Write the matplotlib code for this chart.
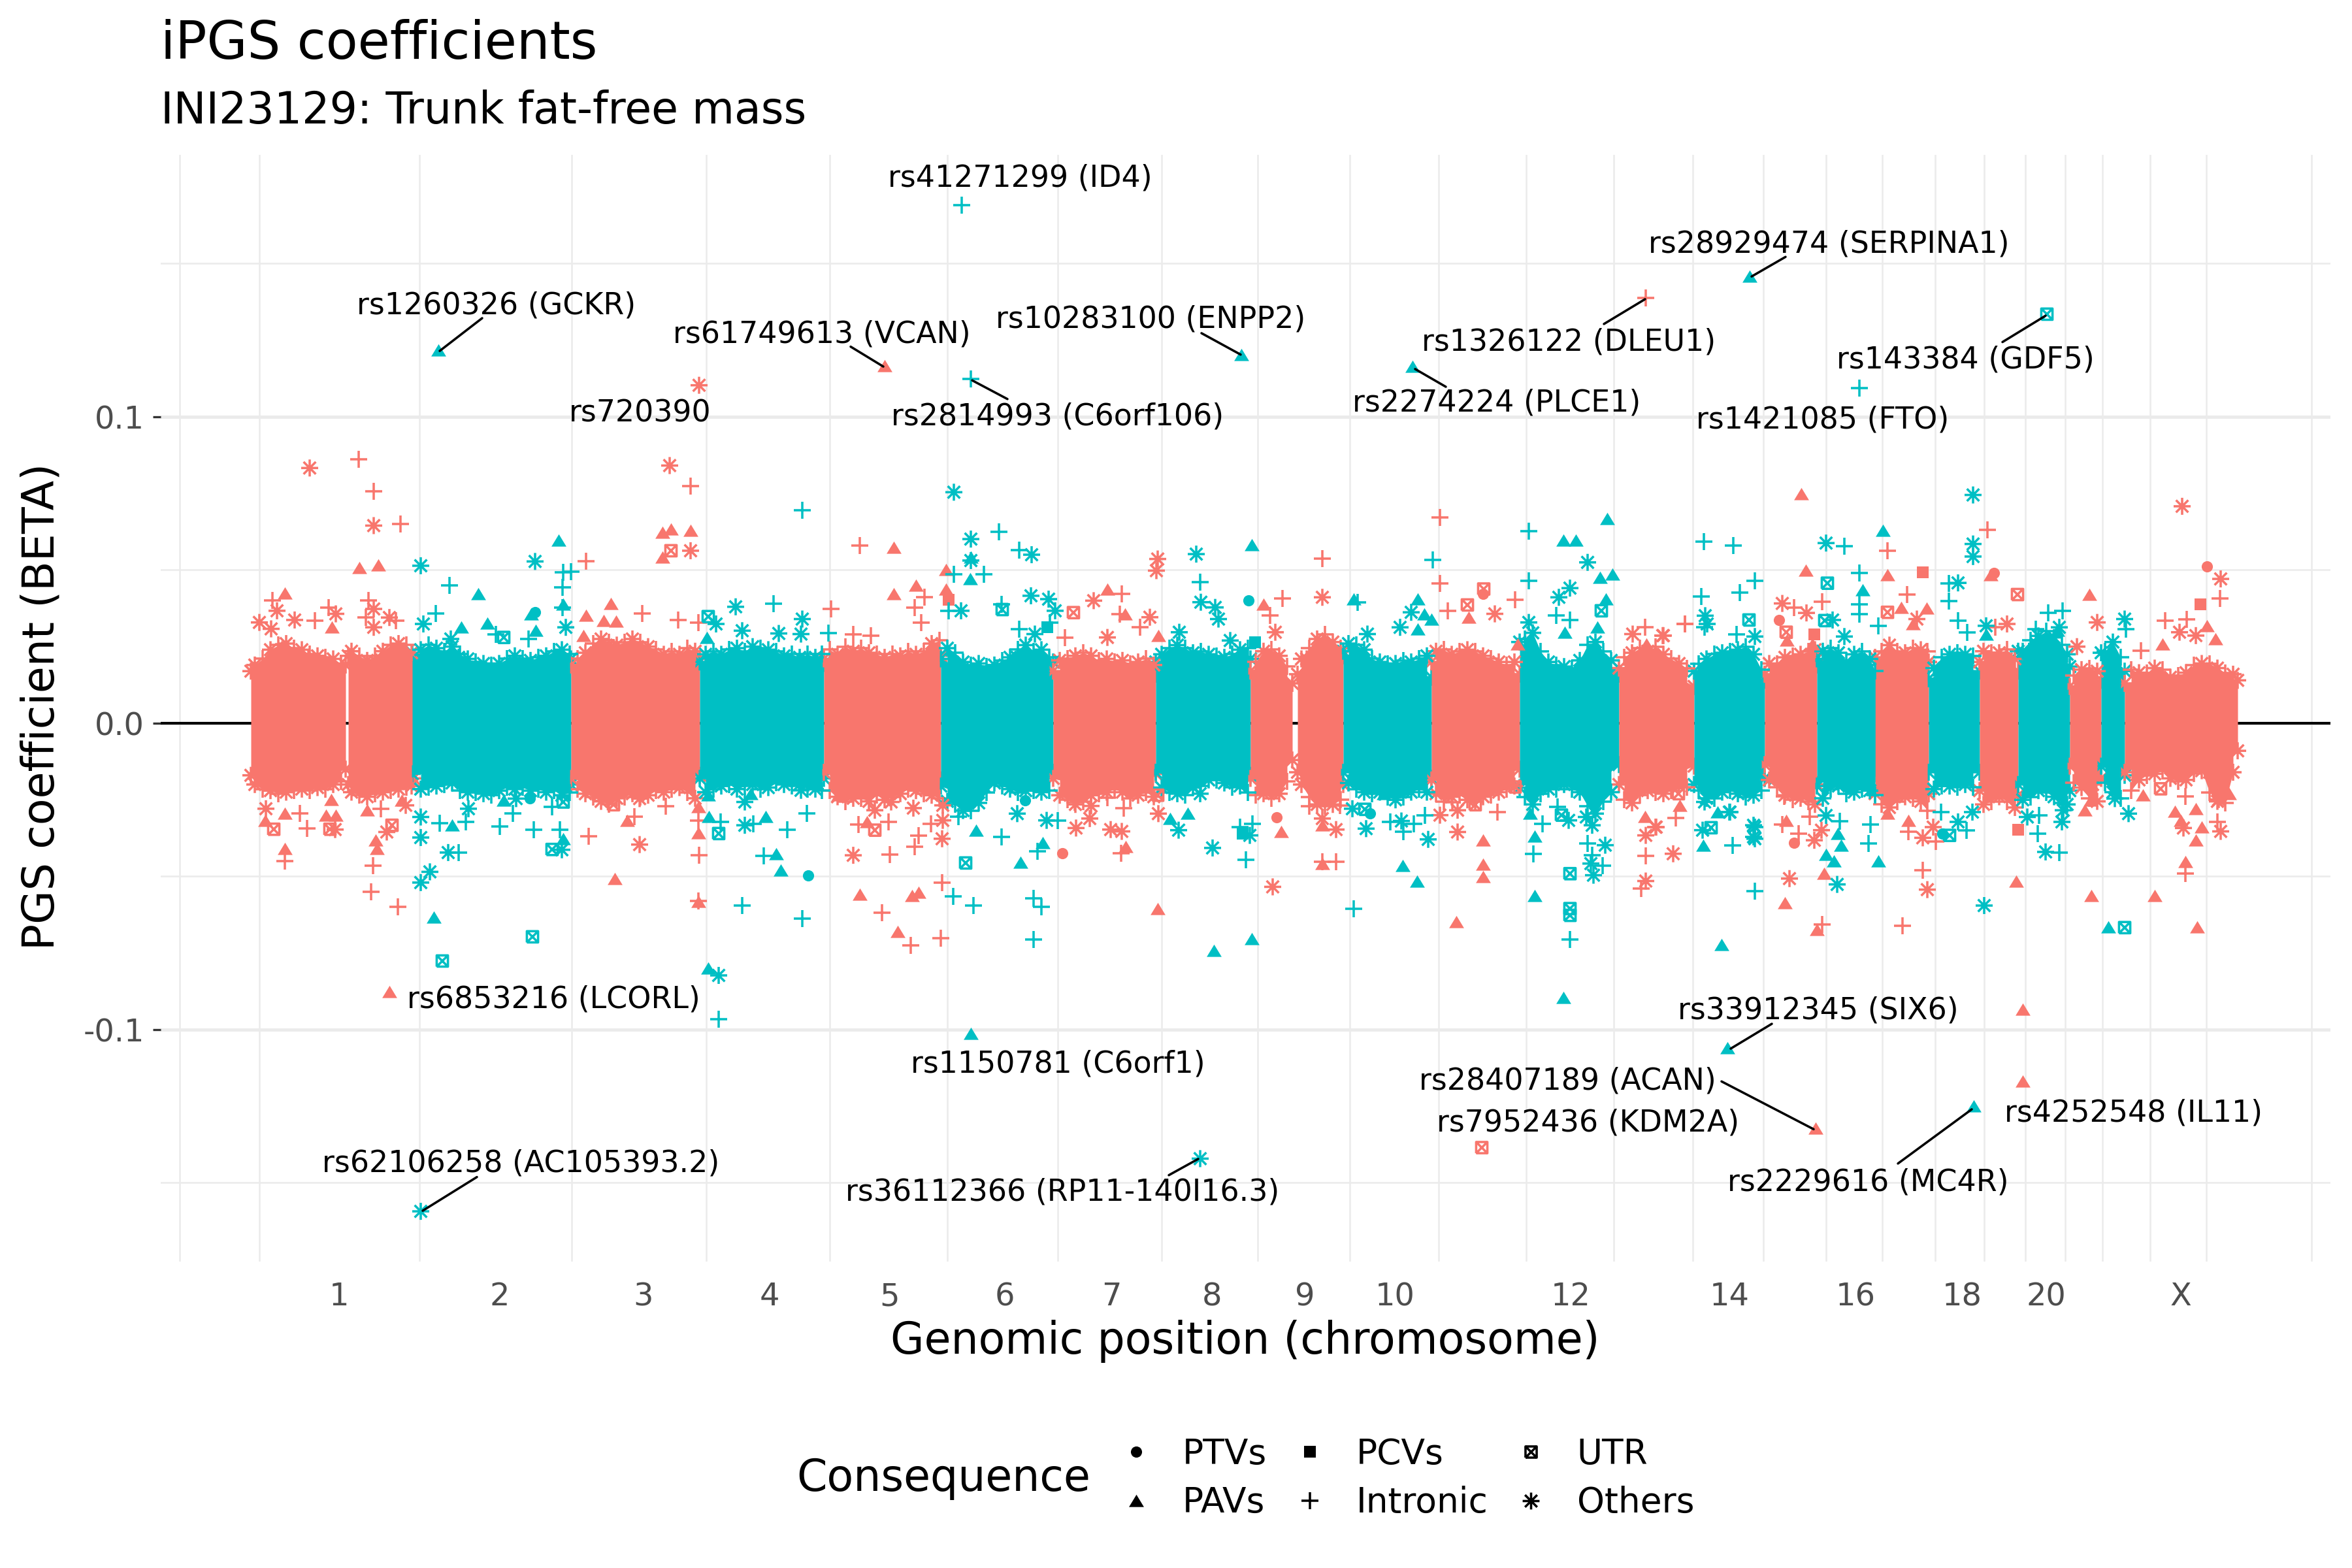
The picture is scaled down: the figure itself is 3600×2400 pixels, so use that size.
import numpy as np
import matplotlib
matplotlib.use("Agg")
import matplotlib.pyplot as plt
from matplotlib.lines import Line2D
from matplotlib.path import Path

SALMON = "#F8766D"
TEAL = "#00BFC4"
GRID = "#EBEBEB"

# x is cumulative genomic position (about 1 Mb per unit, offset as read), y is BETA
tick_pos = [519, 765, 985, 1178, 1361, 1538, 1701, 1855, 1997, 2135, 2404, 2647, 2840, 3003, 3132, 3338]
tick_lab = ["1", "2", "3", "4", "5", "6", "7", "8", "9", "10", "12", "14", "16", "18", "20", "X"]
minor_x = [275, 397, 642, 875, 1081, 1270, 1450, 1619, 1778, 1925, 2066, 2202, 2336, 2470, 2591, 2699,
           2795, 2881, 2962, 3037, 3100, 3161, 3218, 3291, 3377, 3538]
chr_ends = [631, 874, 1071, 1261, 1440, 1612, 1769, 1914, 2056, 2191, 2326, 2478, 2593, 2701, 2781, 2871,
            2952, 3030, 3089, 3168, 3216, 3252]
# centromere gaps in chromosomes 1 and 9
gaps = [531, 1982]

# dense body of each chromosome: position samples and upper/lower extent
band_chr = [1, 1, 2, 3, 4, 5, 6, 7, 8, 9, 9, 10, 11, 12, 13, 14, 15, 16, 17, 18, 19, 20, 21, 22, 23]
band_pos = [
    [384, 432, 472, 529], [533, 576, 610, 633], [631, 702, 736, 788, 845, 874], [874, 931, 983, 1040, 1071],
    [1071, 1161, 1230, 1261], [1261, 1302, 1353, 1404, 1440], [1440, 1481, 1506, 1527, 1557, 1612],
    [1612, 1659, 1684, 1710, 1769], [1769, 1807, 1838, 1878, 1914], [1914, 1945, 1978], [1986, 2000, 2025, 2056],
    [2056, 2097, 2128, 2153, 2191], [2191, 2255, 2326], [2326, 2367, 2408, 2439, 2478], [2478, 2531, 2561, 2593],
    [2593, 2638, 2673, 2701], [2701, 2750, 2781], [2781, 2811, 2831, 2857, 2872], [2870, 2923, 2952],
    [2952, 2994, 3030], [3030, 3071, 3089], [3089, 3137, 3168], [3168, 3203, 3216], [3216, 3252],
    [3252, 3300, 3326, 3341, 3382, 3425],
]
band_top = [
    [.017, .024, .021, .019], [.022, .020, .024, .021], [.023, .0215, .018, .020, .020, .021], [.019, .0235, .0235, .021, .021],
    [.020, .0215, .0195, .0195], [.021, .020, .019, .0195, .022], [.021, .017, .016, .017, .0215, .020],
    [.017, .019, .018, .016, .016], [.020, .022, .019, .0185, .021], [.017, .021, .013], [.016, .021, .026, .022],
    [.0235, .017, .016, .016, .015], [.020, .020, .016], [.0265, .016, .015, .023, .016], [.018, .021, .016, .012],
    [.017, .019, .021, .014], [.016, .017, .019], [.021, .020, .017, .019, .014], [.0215, .020, .020],
    [.0145, .0185, .017], [.020, .021, .017], [.0235, .0265, .0185], [.012, .015, .014], [.023, .017],
    [.013, .013, .009, .011, .013, .014],
]
band_bot = [
    [-.017, -.019, -.019, -.015], [-.020, -.021, -.018, -.018], [-.0165, -.0165, -.0185, -.018, -.019, -.020], [-.018, -.021, -.019, -.018, -.017],
    [-.018, -.0165, -.016, -.018], [-.016, -.020, -.020, -.016, -.0185], [-.0205, -.024, -.0205, -.0145, -.0165, -.016],
    [-.018, -.0205, -.019, -.0165, -.0165], [-.016, -.018, -.015, -.015, -.017], [-.018, -.0185, -.012], [-.016, -.018, -.022, -.020],
    [-.016, -.016, -.019, -.016, -.018], [-.0185, -.020, -.015], [-.021, -.0165, -.016, -.0205, -.0135], [-.020, -.0165, -.0165, -.014],
    [-.020, -.018, -.019, -.018], [-.0135, -.019, -.020], [-.0205, -.016, -.0185, -.0165, -.0165], [-.023, -.0205, -.023],
    [-.016, -.016, -.016], [-.022, -.020, -.0235], [-.020, -.017, -.022], [-.014, -.020, -.018], [-.014, -.017],
    [-.016, -.0115, -.011, -.009, -.016, -.009],
]

# rough rim of the dense body, upper side
edge_top = [(390, .019), (402, .021), (414, .024), (426, .0255), (438, .026), (450, .0245), (462, .024), (474, .0225), (486, .022), (498, .0215), (510, .021), (522, .0195),
            (538, .0235), (550, .022), (562, .0205), (574, .022), (586, .0235), (598, .0255), (610, .026), (622, .0255), (630, .023),
            (644, .024), (656, .0255), (668, .0245), (680, .0235), (692, .025), (704, .0225), (716, .021), (728, .02), (740, .0195), (752, .019), (764, .0195), (776, .021), (788, .022),
            (800, .021), (812, .0205), (824, .0215), (836, .022), (848, .0235), (860, .024), (872, .0225),
            (884, .021), (896, .023), (908, .026), (920, .0275), (932, .0265), (944, .0255), (956, .0265), (968, .0275), (980, .0265), (992, .025), (1004, .024), (1016, .0225), (1028, .0235),
            (1040, .0225), (1052, .0245), (1064, .0235),
            (1080, .0225), (1092, .0235), (1104, .0225), (1116, .024), (1128, .0245), (1140, .0235), (1152, .025), (1164, .0245), (1176, .024), (1188, .0235), (1200, .022), (1212, .0225),
            (1224, .0215), (1236, .0225), (1248, .0215), (1258, .0225),
            (1270, .024), (1282, .0225), (1294, .025), (1306, .0235), (1318, .0245), (1330, .023), (1342, .0225), (1354, .0215), (1366, .0225), (1378, .022), (1390, .0235), (1402, .0225),
            (1414, .0235), (1426, .026), (1438, .027),
            (1450, .0245), (1462, .023), (1474, .02), (1486, .019), (1498, .0195), (1510, .0185), (1522, .019), (1534, .0205), (1546, .0215), (1558, .024), (1570, .0255), (1582, .0235),
            (1594, .024), (1606, .0215),
            (1622, .0205), (1634, .021), (1646, .022), (1658, .023), (1670, .022), (1682, .0205), (1694, .021), (1706, .02), (1718, .0205), (1730, .0195), (1742, .02), (1754, .021), (1766, .019),
            (1778, .0225), (1790, .0245), (1802, .0255), (1814, .0245), (1826, .023), (1838, .0235), (1850, .0225), (1862, .022), (1874, .0215), (1886, .0225), (1898, .024), (1910, .0245),
            (1922, .02), (1934, .0235), (1946, .024), (1958, .022), (1970, .0185), (1992, .021), (2004, .0245), (2016, .0275), (2028, .029), (2040, .0265), (2052, .0245),
            (2064, .026), (2076, .0255), (2088, .024), (2100, .021), (2112, .02), (2124, .0195), (2136, .0195), (2148, .0205), (2160, .02), (2172, .021), (2184, .022),
            (2198, .0235), (2210, .024), (2222, .0225), (2234, .0235), (2246, .024), (2258, .0235), (2270, .022), (2282, .021), (2294, .02), (2306, .019), (2318, .02),
            (2334, .0275), (2346, .0295), (2358, .0235), (2370, .02), (2382, .019), (2394, .0185), (2406, .018), (2418, .0205), (2430, .0255), (2442, .0265), (2454, .0235), (2466, .0205),
            (2486, .0215), (2498, .023), (2510, .0245), (2522, .0235), (2534, .025), (2546, .0225), (2558, .021), (2570, .0195), (2582, .018),
            (2600, .0195), (2612, .021), (2624, .0225), (2636, .023), (2648, .0235), (2660, .024), (2672, .025), (2684, .0225), (2696, .0175),
            (2708, .0195), (2720, .0195), (2732, .0215), (2744, .022), (2756, .0225), (2768, .0235), (2778, .024),
            (2790, .0235), (2802, .0245), (2814, .023), (2826, .0205), (2838, .0225), (2850, .0235), (2862, .021), (2870, .017),
            (2880, .0235), (2892, .0255), (2904, .0235), (2916, .023), (2928, .0245), (2940, .024), (2950, .0235),
            (2960, .018), (2972, .0215), (2984, .0225), (2996, .023), (3008, .0225), (3020, .022),
            (3036, .0235), (3048, .023), (3060, .023), (3072, .024), (3084, .021),
            (3096, .0235), (3108, .027), (3120, .0285), (3132, .03), (3144, .028), (3156, .0255), (3164, .0225),
            (3174, .0155), (3186, .0175), (3198, .018), (3210, .017), (3222, .0235), (3234, .0265), (3246, .0215),
            (3262, .0175), (3274, .0165), (3286, .0165), (3298, .018), (3310, .0175), (3322, .015), (3334, .0155), (3346, .0165), (3358, .019), (3370, .0195), (3382, .0195), (3394, .018),
            (3406, .0165), (3418, .016)]
# and lower side
edge_bot = [(390, -.02), (402, -.0215), (414, -.022), (426, -.023), (438, -.0225), (450, -.022), (462, -.0215), (474, -.022), (486, -.021), (498, -.0215), (510, -.02), (522, -.019),
            (538, -.0225), (550, -.0235), (562, -.024), (574, -.023), (586, -.0225), (598, -.022), (610, -.0215), (622, -.021), (630, -.0205),
            (644, -.0215), (656, -.021), (668, -.0205), (680, -.02), (692, -.0195), (704, -.022), (716, -.0225), (728, -.0225), (740, -.023), (752, -.0235), (764, -.022), (776, -.021),
            (788, -.0215), (800, -.021), (812, -.022), (824, -.0215), (836, -.0225), (848, -.022), (860, -.0235), (872, -.0225),
            (884, -.0215), (896, -.023), (908, -.024), (920, -.0255), (932, -.0265), (944, -.0245), (956, -.024), (968, -.023), (980, -.024), (992, -.0235), (1004, -.022), (1016, -.0225),
            (1028, -.0215), (1040, -.021), (1052, -.0225), (1064, -.0245),
            (1080, -.0225), (1092, -.0215), (1104, -.0205), (1116, -.02), (1128, -.0215), (1140, -.0205), (1152, -.02), (1164, -.0215), (1176, -.021), (1188, -.0195), (1200, -.02),
            (1212, -.0205), (1224, -.02), (1236, -.0215), (1248, -.0215), (1258, -.022),
            (1270, -.022), (1282, -.024), (1294, -.0255), (1306, -.0245), (1318, -.0245), (1330, -.0255), (1342, -.0235), (1354, -.025), (1366, -.024), (1378, -.023), (1390, -.0215),
            (1402, -.022), (1414, -.023), (1426, -.0235), (1438, -.0245),
            (1450, -.0255), (1462, -.0265), (1474, -.0285), (1486, -.0285), (1498, -.026), (1510, -.0225), (1522, -.0195), (1534, -.0205), (1546, -.0215), (1558, -.0225), (1570, -.022),
            (1582, -.022), (1594, -.0225), (1606, -.022),
            (1622, -.0235), (1634, -.025), (1646, -.0265), (1658, -.0255), (1670, -.0235), (1682, -.023), (1694, -.0225), (1706, -.0215), (1718, -.0225), (1730, -.0245), (1742, -.0235),
            (1754, -.0225), (1766, -.024),
            (1778, -.021), (1790, -.0225), (1802, -.023), (1814, -.0235), (1826, -.021), (1838, -.0205), (1850, -.0185), (1862, -.0185), (1874, -.0195), (1886, -.021), (1898, -.0205), (1910, -.0225),
            (1922, -.0235), (1934, -.023), (1946, -.0245), (1958, -.023), (1970, -.019), (1992, -.02), (2004, -.024), (2016, -.0265), (2028, -.027), (2040, -.0265), (2052, -.025),
            (2064, -.0195), (2076, -.0215), (2088, -.0225), (2100, -.023), (2112, -.0225), (2124, -.024), (2136, -.025), (2148, -.024), (2160, -.0225), (2172, -.0215), (2184, -.0225),
            (2198, -.023), (2210, -.0255), (2222, -.024), (2234, -.0235), (2246, -.025), (2258, -.0255), (2270, -.024), (2282, -.0235), (2294, -.0225), (2306, -.0215), (2318, -.0205),
            (2334, -.024), (2346, -.0265), (2358, -.023), (2370, -.0215), (2382, -.0215), (2394, -.02), (2406, -.0215), (2418, -.0225), (2430, -.027), (2442, -.0295), (2454, -.0255), (2466, -.0225),
            (2486, -.025), (2498, -.026), (2510, -.0235), (2522, -.022), (2534, -.0225), (2546, -.023), (2558, -.022), (2570, -.0205), (2582, -.021),
            (2600, -.022), (2612, -.0245), (2624, -.0245), (2636, -.0225), (2648, -.022), (2660, -.023), (2672, -.024), (2684, -.0235), (2696, -.022),
            (2708, -.0185), (2720, -.021), (2732, -.0235), (2744, -.025), (2756, -.0245), (2768, -.0255), (2778, -.0265),
            (2790, -.0245), (2802, -.0215), (2814, -.0205), (2826, -.023), (2838, -.0225), (2850, -.0215), (2862, -.022), (2870, -.0235),
            (2880, -.0265), (2892, -.0275), (2904, -.0255), (2916, -.024), (2928, -.0245), (2940, -.0255), (2950, -.0285),
            (2960, -.0215), (2972, -.0205), (2984, -.0205), (2996, -.021), (3008, -.02), (3020, -.021),
            (3036, -.0265), (3048, -.0255), (3060, -.024), (3072, -.0255), (3084, -.0275),
            (3096, -.025), (3108, -.024), (3120, -.022), (3132, -.0225), (3144, -.024), (3156, -.026), (3164, -.0265),
            (3174, -.0195), (3186, -.021), (3198, -.0245), (3210, -.0255), (3222, -.0195), (3234, -.0225), (3246, -.0245),
            (3262, -.022), (3274, -.0185), (3286, -.017), (3298, -.0165), (3310, -.0155), (3322, -.018), (3334, -.019), (3346, -.0185), (3358, -.0165), (3370, -.0155), (3382, -.0225),
            (3394, -.0255), (3406, -.026), (3418, -.016)]

# points outside the dense body, salmon chromosomes
odd_others = [(474, .0833), (572, .0645), (1025, .0841), (1057, .0563), (1070, .1103), (397, .0329), (424, .0367), (451, .0337),
              (514, .0357), (572, .0373), (596, .0345), (572, .0313), (415, .0308), (1674, .0400), (1772, .0536), (1770, .0498),
              (1760, .0346), (2024, .0411), (2288, .0357), (1695, .0280), (1952, .0297), (2545, .0286), (2499, .0291),
              (3340, .0708), (3399, .0471), (3210, .0329), (3072, .0324), (2728, .0391), (2765, .0360), (2546, .0286), (2934, .0340),
              (3336, .0297), (3361, .0286), (3179, .0250),
              (592, -.0355), (979, -.0396), (1306, -.0431), (1442, -.0377), (513, -.0347), (407, -.0279), (979, -.0246), (1339, -.0284),
              (1364, -.0257), (1398, -.0277), (1443, -.0317), (1443, -.0268), (621, -.0268),
              (1948, -.0534), (2561, -.0426), (2519, -.0366), (2519, -.0515), (2535, -.0339), (2231, -.0355), (2045, -.0347), (2024, -.0311),
              (1647, -.0342), (1668, -.0311), (1700, -.0347), (1717, -.0353), (1773, -.0295), (1670, -.0270), (2231, -.0284), (2204, -.0300),
              (2739, -.0507), (2950, -.0543), (2534, -.0339), (3342, -.0342), (3399, -.0353), (2943, -.0374), (2959, -.0339), (2777, -.0382),
              (2788, -.0349), (3396, -.0249)]
odd_intronic = [(549, .0862), (572, .0757), (613, .0650), (897, .0528), (1057, .0773), (1316, .0580), (983, .0359), (1038, .0337), (1069, .0329),
                (1272, .0373), (417, .0400), (503, .0378), (564, .0400), (482, .0335), (560, .0346), (606, .0335), (1415, .0411), (1400, .0378),
                (1410, .0329), (1306, .0291), (1333, .0286), (1717, .0422), (1714, .0357), (1963, .0408), (2024, .0538), (2204, .0672), (2204, .0457),
                (2216, .0367), (2319, .0402), (1944, .0351), (1745, .0313), (2518, .0313), (2579, .0324), (1630, .0280), (2519, .1387),
                (3042, .0631), (2889, .0563), (2919, .0420), (2789, .0397), (2746, .0378), (2579, .0324), (3398, .0408), (3314, .0335), (3347, .0340),
                (3054, .0313), (3277, .0237),
                (436, -.0451), (568, -.0551), (609, -.0600), (571, -.0464), (470, -.0344), (459, -.0295), (583, -.0279), (901, -.0368), (971, -.0306),
                (1019, -.0271), (1070, -.0431), (1069, -.0581), (1069, -.0317), (1350, -.0619), (1394, -.0725), (1440, -.0701), (1442, -.0521),
                (1362, -.0429), (1400, -.0404), (1406, -.0366), (1314, -.0331), (1360, -.0322), (1425, -.0328),
                (1716, -.0424), (2045, -.0453), (2024, -.0453), (2512, -.0540), (2519, -.0433), (2565, -.0309), (2292, -.0290), (2223, -.0257),
                (1720, -.0277), (1695, -.0244), (1645, -.0257), (2004, -.0271), (2051, -.0268),
                (2912, -.0660), (2943, -.0480), (2789, -.0657), (3345, -.0491), (3394, -.0322), (3345, -.0238), (2731, -.0238), (2728, -.0331),
                (2770, -.0306), (2753, -.0360), (2963, -.0385), (2921, -.0355)]
odd_pavs = [(436, .0425), (550, .0507), (579, .0516), (508, .0313), (935, .0391), (897, .0351), (924, .0335), (943, .0333), (1014, .0623), (1027, .0634),
            (1057, .0628), (1014, .0541), (1368, .0574), (1448, .0502), (1368, .0422), (1402, .0449), (1448, .0438), (1354, .1167), (893, .0286),
            (1695, .0438), (1722, .0356), (1934, .0389), (2248, .0346), (1773, .0286), (2323, .0259),
            (2757, .0748), (2764, .0498), (2889, .0485), (3047, .0485), (3198, .0420), (2910, .0378), (2949, .0376), (2928, .0324), (3378, .0318),
            (3310, .0259), (3391, .0275), (2520, .0259), (2735, .0270), (2774, .0259),
            (596, -.0877), (436, -.0409), (577, -.0409), (575, -.0382), (406, -.0317), (436, -.0295), (499, -.0301), (514, -.0301), (562, -.0284),
            (615, -.0252), (507, -.0249), (941, -.0507), (960, -.0317), (1069, -.0358), (1069, -.0583), (1069, -.0273), (1316, -.0559), (1396, -.0562),
            (1406, -.0553), (1374, -.0681), (1283, -.0235), (1327, -.0322),
            (1772, -.0605), (2229, -.0649), (2270, -.0382), (2270, -.0460), (2270, -.0502), (2024, -.0458), (2024, -.0333), (1961, -.0355), (1723, -.0404),
            (2571, -.0268), (2518, -.0306),
            (2779, -.1321), (3096, -.0935), (3096, -.1168), (3086, -.0515), (3201, -.0564), (3298, -.0562), (3363, -.0665), (2781, -.0673), (2732, -.0587),
            (2792, -.0491), (3345, -.0453), (3361, -.0382), (3370, -.0339), (3338, -.0317), (3329, -.0287), (3361, -.0279), (3191, -.0284), (3200, -.0252),
            (3280, -.0235), (3412, -.0230), (2889, -.0295), (2921, -.0317), (2734, -.0317)]
odd_utr = [(1027, .0563), (931, .0253), (1643, .0361), (2271, .0438), (2246, .0386), (3088, .0420), (2734, .0297), (2889, .0362),
           (419, -.0346), (505, -.0346), (600, -.0333), (1339, -.0349), (939, -.0266), (916, -.0235), (2268, -.1385), (1772, -.0235), (2258, -.0266),
           (2319, -.0208), (2569, -.0230), (3307, -.0214)]
odd_pcvs = [(1452, .0402), (2943, .0493), (3368, .0389), (2777, .0289), (3089, -.0347)]
odd_ptvs = [(2270, .0422), (3052, .0490), (2723, .0337), (3378, .0512), (1626, -.0424), (1954, -.0307), (2746, -.0390)]

# teal chromosomes
even_others = [(644, .0514), (819, .0528), (1460, .0754), (1486, .0601), (1486, .0531), (1126, .0380), (1096, .0324), (1136, .0302), (1192, .0293), (1228, .0340),
               (1226, .0291), (1471, .0367), (648, .0324), (866, .0313), (690, .0275),
               (1579, .0550), (1831, .0552), (1578, .0416), (1605, .0405), (1615, .0367), (1838, .0395), (1860, .0378), (1865, .0340), (1805, .0297), (2430, .0525),
               (2403, .0441), (2386, .0411), (2160, .0362), (2143, .0313), (2093, .0291), (2340, .0329), (2610, .0351), (2613, .0324), (1584, .0291), (1883, .0270),
               (3020, .0745), (2795, .0588), (3020, .0585), (3020, .0544), (2997, .0458), (3252, .0340), (2805, .0337), (2823, .0283), (2686, .0283), (3040, .0318),
               (3152, .0313), (3117, .0259),
               (644, -.1593), (644, -.0520), (658, -.0485), (686, -.0422), (644, -.0373), (644, -.0306), (1100, -.0823), (860, -.0413), (1140, -.0333), (790, -.0246),
               (717, -.0279), (1140, -.0257), (1226, -.0219),
               (1837, -.1421), (1856, -.0407), (1804, -.0349), (1557, -.0295), (1602, -.0317), (2091, -.0344), (2145, -.0319), (2186, -.0379), (2401, -.0317), (2457, -.0398),
               (2435, -.0458), (2439, -.0496), (2428, -.0306), (2437, -.0333), (2606, -.0349), (2686, -.0339), (2686, -.0377), (1913, -.0366), (2070, -.0279), (1837, -.0230),
               (2648, -.0290),
               (3037, -.0595), (2812, -.0526), (3131, -.0420), (2684, -.0371), (2684, -.0333), (2647, -.0290), (2609, -.0257), (2997, -.0322), (3019, -.0290), (3156, -.0322),
               (3158, -.0284), (3103, -.0306), (3258, -.0295), (2795, -.0301), (3237, -.0246)]
even_intronic = [(1472, .1691), (1486, .1124), (1228, .0694), (862, .0493), (874, .0495), (861, .0444), (688, .0449), (667, .0359), (1184, .0391), (1460, .0487),
                 (1452, .0367), (861, .0378), (1268, .0294), (759, .0291), (809, .0275),
                 (1529, .0625), (1560, .0565), (1506, .0487), (1837, .0460), (2340, .0626), (2193, .0533), (2340, .0465), (2608, .0593), (2653, .0580), (2686, .0465),
                 (2663, .0427), (2604, .0413), (2078, .0394), (2382, .0351), (2403, .0337), (1560, .0307), (1533, .0389), (1607, .0329),
                 (2846, .1094), (2823, .0577), (2846, .0490), (2846, .0389), (2846, .0357), (2983, .0457), (2983, .0398), (2997, .0335), (3011, .0297), (3135, .0360),
                 (3157, .0367), (3116, .0307), (3254, .0307), (2658, .0291), (2609, .0313), (2875, .0318),
                 (1100, -.0967), (1136, -.0594), (1228, -.0638), (1169, -.0433), (1235, -.0295), (1205, -.0347), (765, -.0336), (817, -.0347), (857, -.0347), (702, -.0422),
                 (785, -.0295), (845, -.0273), (673, -.0326), (713, -.0322), (1459, -.0565), (1490, -.0594), (1467, -.0306), (1103, -.0322), (1153, -.0328),
                 (1582, -.0572), (1594, -.0600), (1582, -.0705), (2072, -.0605), (2403, -.0705), (2347, -.0426), (1533, -.0371), (1588, -.0417), (1907, -.0445), (2430, -.0393),
                 (2437, -.0431), (2453, -.0464), (2652, -.0398), (2686, -.0547), (2148, -.0355), (2164, -.0328), (2128, -.0322), (2181, -.0300), (2361, -.0328), (1898, -.0339),
                 (1917, -.0328), (1619, -.0317), (2384, -.0273),
                 (2860, -.0393), (2863, -.0331), (2816, -.0320), (3010, -.0349), (2971, -.0290), (3119, -.0360), (3152, -.0422), (3121, -.0300)]
even_pavs = [(671, .1218), (855, .0598), (732, .0422), (746, .0326), (862, .0389), (813, .0356), (820, .0302), (706, .0313), (1082, .0280), (1486, .0541), (1485, .0471),
             (1900, .1203), (2162, .1164), (1916, .0582), (2460, .0667), (2393, .0598), (2412, .0596), (2449, .0476), (2468, .0487), (2458, .0406), (2072, .0406), (2170, .0406),
             (2180, .0356), (2191, .0340), (2170, .0307), (2395, .0297), (2445, .0313),
             (2678, .1459), (2882, .0629), (2851, .0435), (3040, .0291), (3149, .0302),
             (664, -.0634), (1084, -.0799), (1486, -.1013), (771, -.0252), (692, -.0333), (862, -.0377), (1085, -.0306), (1172, -.0304), (1188, -.0426), (1195, -.0480),
             (1494, -.0350), (1084, -.0235), (1149, -.0230),
             (1562, -.0455), (1596, -.0391), (2147, -.0465), (2169, -.0516), (2349, -.0562), (2349, -.0369), (2393, -.0896), (2635, -.0722), (1858, -.0741), (1916, -.0703),
             (2607, -.0399), (2342, -.0295), (1791, -.0311), (2118, -.0230), (2644, -.1060), (2629, -.0290), (1818, -.0295),
             (3021, -.1250), (3227, -.0665), (2795, -.0429), (2807, -.0451), (2818, -.0398), (2813, -.0360), (2875, -.0451)]
even_utr = [(1084, .0348), (771, .0280), (1534, .0371), (2451, .0367), (2677, .0337), (3133, .1335), (2797, .0457), (2793, .0335),
            (677, -.0776), (815, -.0697), (845, -.0412), (1100, -.0360), (1478, -.0456), (862, -.0257),
            (2403, -.0491), (2403, -.0605), (2403, -.0627), (2619, -.0341), (2390, -.0300), (2089, -.0281), (3252, -.0667), (2984, -.0366)]
even_pcvs = [(1603, .0313), (1921, .0264), (1902, -.0360)]
even_ptvs = [(819, .0362), (1911, .0400), (811, -.0246), (1237, -.0496), (1569, -.0252), (2097, -.0295), (2973, -.0360)]

label_text = ["rs41271299 (ID4)", "rs28929474 (SERPINA1)", "rs1260326 (GCKR)", "rs61749613 (VCAN)", "rs10283100 (ENPP2)", "rs1326122 (DLEU1)",
              "rs143384 (GDF5)", "rs2814993 (C6orf106)", "rs2274224 (PLCE1)", "rs1421085 (FTO)", "rs720390", "rs6853216 (LCORL)", "rs1150781 (C6orf1)",
              "rs33912345 (SIX6)", "rs28407189 (ACAN)", "rs7952436 (KDM2A)", "rs4252548 (IL11)", "rs2229616 (MC4R)", "rs62106258 (AC105393.2)",
              "rs36112366 (RP11-140I16.3)"]
label_pos = [1561, 2799, 760, 1258, 1761, 2401, 3008, 1619, 2291, 2790, 980, 847, 1619, 2783, 2399, 2431, 3265, 2859, 797, 1626]
label_beta = [.1778, .1562, .1362, .1268, .1317, .1244, .1185, .0999, .1044, .0989, .1010, -.0901, -.1112, -.0939, -.1169, -.1306, -.1272, -.1498, -.1438, -.1532]

seg_x0 = [738, 1302, 1839, 1488, 2166, 2518, 2733, 3131, 730, 1834, 2712, 2635, 2905]
seg_b0 = [.1322, .1229, .1273, .1119, .1156, .1384, .1522, .1330, -.1481, -.1422, -.0981, -.1169, -.1437]
seg_x1 = [673, 1352, 1899, 1542, 2213, 2455, 2681, 3065, 647, 1789, 2649, 2776, 3018]
seg_b1 = [.1215, .1164, .1203, .1058, .1098, .1303, .1458, .1244, -.1591, -.1475, -.1062, -.1325, -.1260]

W, H = 3600, 2400
L, R, T, B = 246, 3567, 237, 1931

star_path = Path([(0, -1), (0, 1), (-1, 0), (1, 0), (-.72, -.72), (.72, .72), (-.72, .72), (.72, -.72)],
                 [Path.MOVETO, Path.LINETO] * 4)
utr_path = Path([(-1, -1), (1, -1), (1, 1), (-1, 1), (-1, -1), (-1, -1), (1, 1), (-1, 1), (1, -1)],
                [Path.MOVETO] + [Path.LINETO] * 4 + [Path.MOVETO, Path.LINETO, Path.MOVETO, Path.LINETO])
tri_path = Path([(-1, -.8), (1, -.8), (0, .85), (-1, -.8)], closed=True)

fig = plt.figure(figsize=(12, 8), dpi=300)
ax = fig.add_axes([L / W, 1 - B / H, (R - L) / W, (B - T) / H])
ax.set_xlim(L, R)
ax.set_ylim(-0.1757, 0.1855)
for s in ax.spines.values():
    s.set_visible(False)
ax.set_axisbelow(True)

for y in [-.15, -.05, .05, .15]:
    ax.axhline(y, color=GRID, lw=0.6, zorder=0)
for y in [-.1, 0, .1]:
    ax.axhline(y, color=GRID, lw=1.2, zorder=0)
for x in minor_x:
    ax.axvline(x, color=GRID, lw=0.6, zorder=0)
ax.axhline(0, color="black", lw=1.0, zorder=1)


def col(c):
    return SALMON if c % 2 == 1 else TEAL


def line_pts(pts, marker, color, s, z=3):
    a = np.array(pts)
    ax.scatter(a[:, 0], a[:, 1], marker=marker, s=s, facecolors="none", edgecolors=color, linewidths=0.85, zorder=z)


def fill_pts(pts, marker, color, s, z=3):
    a = np.array(pts)
    ax.scatter(a[:, 0], a[:, 1], marker=marker, s=s, c=color, linewidths=0, zorder=z)


for c, p, t, b in zip(band_chr, band_pos, band_top, band_bot):
    ax.fill_between(p, b, t, color=col(c), lw=0, zorder=2.5)
    ax.scatter(p, t, marker=star_path, s=39, facecolors="none", edgecolors=col(c), linewidths=0.85, zorder=2.5)
    ax.scatter(p, b, marker=star_path, s=39, facecolors="none", edgecolors=col(c), linewidths=0.85, zorder=2.5)

# rim markers take their colour from the chromosome they fall in, and the body is filled out to them
breaks = sorted(chr_ends + gaps)
for edge in [edge_top, edge_bot]:
    e = np.array(edge)
    part = np.searchsorted(breaks, e[:, 0])
    chrom = np.searchsorted(chr_ends, e[:, 0]) + 1
    for i in np.unique(part):
        sub = e[part == i]
        ax.fill_between(sub[:, 0], 0, sub[:, 1], color=col(chrom[part == i][0]), lw=0, zorder=2.5)
    for c, color in [(1, SALMON), (0, TEAL)]:
        sub = e[chrom % 2 == c]
        ax.scatter(sub[::2, 0], sub[::2, 1], marker=star_path, s=39, facecolors="none", edgecolors=color, linewidths=0.85, zorder=2.6)
        ax.scatter(sub[1::2, 0], sub[1::2, 1], marker="+", s=39, c=color, linewidths=0.85, zorder=2.6)

for color, oth, intr, pav, utr, pcv, ptv in [(SALMON, odd_others, odd_intronic, odd_pavs, odd_utr, odd_pcvs, odd_ptvs),
                                             (TEAL, even_others, even_intronic, even_pavs, even_utr, even_pcvs, even_ptvs)]:
    line_pts(oth, star_path, color, 39)
    a = np.array(intr)
    ax.scatter(a[:, 0], a[:, 1], marker="+", s=39, c=color, linewidths=0.85, zorder=3)
    fill_pts(pav, tri_path, color, 30)
    line_pts(utr, utr_path, color, 17)
    fill_pts(pcv, "s", color, 19)
    fill_pts(ptv, "o", color, 17)

for x0, b0, x1, b1 in zip(seg_x0, seg_b0, seg_x1, seg_b1):
    ax.plot([x0, x1], [b0, b1], color="black", lw=0.85, solid_capstyle="round", zorder=4)
for txt, x, y in zip(label_text, label_pos, label_beta):
    ax.text(x, y, txt, ha="center", va="center", fontsize=11, color="black", zorder=5)

ax.set_xticks(tick_pos)
ax.set_xticklabels(tick_lab)
ax.set_yticks([-.1, 0, .1])
ax.set_yticklabels(["-0.1", "0.0", "0.1"])
ax.tick_params(axis="x", length=0, labelsize=11.5, labelcolor="#4D4D4D", pad=7.3)
ax.tick_params(axis="y", length=3, width=0.8, color="#333333", labelsize=11.5, labelcolor="#4D4D4D", pad=3)

fig.text(L / W, 1 - 68 / H, "iPGS coefficients", fontsize=19.2, va="center", ha="left")
fig.text(L / W, 1 - 170 / H, "INI23129: Trunk fat-free mass", fontsize=16, va="center", ha="left")
fig.text(1906 / W, 1 - 2053 / H, "Genomic position (chromosome)", fontsize=16, va="center", ha="center")
fig.text(64 / W, 1 - 1081 / H, "PGS coefficient (BETA)", fontsize=16, va="center", ha="center", rotation=90)
fig.text(1219 / W, 1 - 2263 / H, "Consequence", fontsize=16, va="center", ha="left")

handles = [
    Line2D([], [], ls="none", marker="o", ms=4.1, mfc="k", mec="k", mew=0),
    Line2D([], [], ls="none", marker=tri_path, ms=5.5, mfc="k", mec="k", mew=0),
    Line2D([], [], ls="none", marker="s", ms=4.3, mfc="k", mec="k", mew=0),
    Line2D([], [], ls="none", marker="+", ms=6.2, mec="k", mew=0.85),
    Line2D([], [], ls="none", marker=utr_path, ms=4.1, mfc="none", mec="k", mew=0.85),
    Line2D([], [], ls="none", marker=star_path, ms=6.2, mfc="none", mec="k", mew=0.85),
]
fig.legend(handles, ["PTVs", "PAVs", "PCVs", "Intronic", "UTR", "Others"], ncol=3, frameon=False, fontsize=12.8,
           loc="center left", bbox_to_anchor=(1719 / W, 1 - 2263 / H), borderpad=0, borderaxespad=0,
           handlelength=0.75, handletextpad=0.95, columnspacing=0.86, labelspacing=0.42)

fig.savefig("out.png", dpi=300, facecolor="white")
